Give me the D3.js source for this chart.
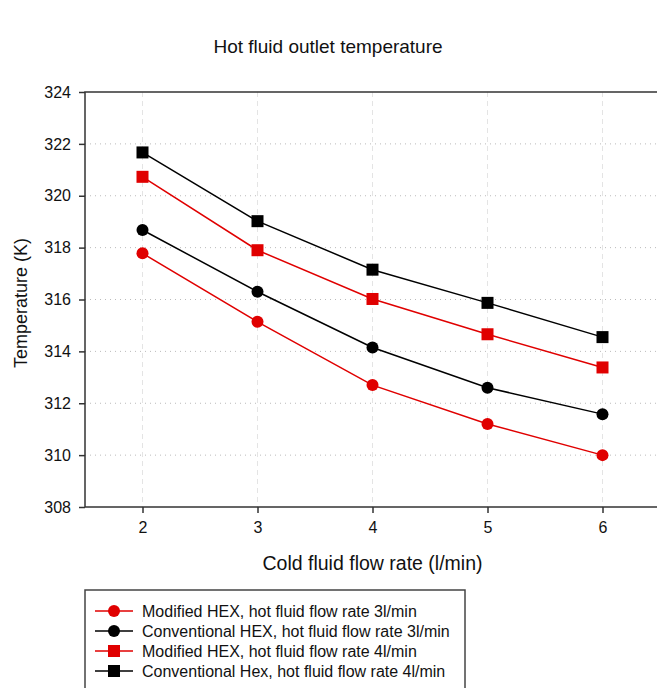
<!DOCTYPE html>
<meta charset="utf-8">
<style>
body { margin: 0; background: #fff; }
text { font-family: "Liberation Sans", Arial, sans-serif; fill: #111; }
.axis path, .axis line { stroke: #333; stroke-width: 1.5px; }
.axis text { font-size: 16px; }
.line { fill: none; stroke-width: 1.5px; }
</style>
<body>
<script src="https://cdn.jsdelivr.net/npm/d3@7"></script>
<script>

// data
var flowRates = [2, 3, 4, 5, 6];
var modified3 = [317.78, 315.14, 312.7, 311.2, 310.0];
var conventional3 = [318.68, 316.3, 314.15, 312.6, 311.58];
var modified4 = [320.73, 317.9, 316.02, 314.66, 313.38];
var conventional4 = [321.67, 319.02, 317.15, 315.87, 314.55];
var yTicks = [308, 310, 312, 314, 316, 318, 320, 322, 324];

var series = [
  {name: "Modified HEX, hot fluid flow rate 3l/min", values: modified3, color: "#e00000", shape: "circle"},
  {name: "Conventional HEX, hot fluid flow rate 3l/min", values: conventional3, color: "#000", shape: "circle"},
  {name: "Modified HEX, hot fluid flow rate 4l/min", values: modified4, color: "#e00000", shape: "square"},
  {name: "Conventional Hex, hot fluid flow rate 4l/min", values: conventional4, color: "#000", shape: "square"}
];

var width = 657, height = 688;
var plotLeft = 85, plotRight = 660, plotTop = 92, plotBottom = 507;

var svg = d3.select("body").append("svg")
    .attr("width", width)
    .attr("height", height);

var x = d3.scaleLinear().domain([1.5, 6.5]).range([plotLeft, plotRight]);
var y = d3.scaleLinear().domain([308, 324]).range([plotBottom, plotTop]);

// grid
svg.append("g").selectAll("line")
    .data(yTicks.slice(1, -1))
  .enter().append("line")
    .attr("x1", plotLeft).attr("x2", plotRight)
    .attr("y1", function(d) { return y(d); })
    .attr("y2", function(d) { return y(d); })
    .attr("stroke", "#bbb")
    .attr("stroke-dasharray", "1,4");

svg.append("g").selectAll("line")
    .data(flowRates)
  .enter().append("line")
    .attr("x1", function(d) { return x(d); })
    .attr("x2", function(d) { return x(d); })
    .attr("y1", plotTop).attr("y2", plotBottom)
    .attr("stroke", "#e4e4e4")
    .attr("stroke-dasharray", "5,4");

// frame
svg.append("rect")
    .attr("x", plotLeft).attr("y", plotTop)
    .attr("width", plotRight - plotLeft).attr("height", plotBottom - plotTop)
    .attr("fill", "none")
    .attr("stroke", "#333")
    .attr("stroke-width", 1.5);

// axes
svg.append("g")
    .attr("class", "axis")
    .attr("transform", "translate(0," + plotBottom + ")")
    .call(d3.axisBottom(x).tickValues(flowRates).tickFormat(d3.format("d"))
        .tickSize(6).tickPadding(9).tickSizeOuter(0))
    .call(function(g) { g.select(".domain").remove(); });

svg.append("g")
    .attr("class", "axis")
    .attr("transform", "translate(" + plotLeft + ",0)")
    .call(d3.axisLeft(y).tickValues(yTicks).tickFormat(d3.format("d"))
        .tickSize(6).tickPadding(8).tickSizeOuter(0))
    .call(function(g) { g.select(".domain").remove(); });

// lines and markers
var line = d3.line()
    .x(function(d, i) { return x(flowRates[i]); })
    .y(function(d) { return y(d); });

function drawMarker(g, shape, color, cx, cy) {
  if (shape == "circle") {
    g.append("circle").attr("cx", cx).attr("cy", cy).attr("r", 6).attr("fill", color);
  } else {
    g.append("rect").attr("x", cx - 6).attr("y", cy - 6)
        .attr("width", 12).attr("height", 12).attr("fill", color);
  }
}

series.forEach(function(s) {
  svg.append("path")
      .datum(s.values)
      .attr("class", "line")
      .attr("stroke", s.color)
      .attr("d", line);
  var g = svg.append("g");
  s.values.forEach(function(v, i) {
    drawMarker(g, s.shape, s.color, x(flowRates[i]), y(v));
  });
});

// titles
svg.append("text")
    .attr("x", 328).attr("y", 53)
    .attr("text-anchor", "middle")
    .style("font-size", "19px")
    .text("Hot fluid outlet temperature");

svg.append("text")
    .attr("x", (plotLeft + plotRight) / 2).attr("y", 570)
    .attr("text-anchor", "middle")
    .style("font-size", "19.5px")
    .text("Cold fluid flow rate (l/min)");

svg.append("text")
    .attr("transform", "translate(27,303) rotate(-90)")
    .attr("text-anchor", "middle")
    .style("font-size", "18px")
    .text("Temperature (K)");

// legend
var legend = svg.append("g");
legend.append("rect")
    .attr("x", 85).attr("y", 590)
    .attr("width", 380).attr("height", 120)
    .attr("fill", "#fff")
    .attr("stroke", "#444")
    .attr("stroke-width", 1.5);

series.forEach(function(s, i) {
  var ly = 611 + i * 20;
  legend.append("line")
      .attr("x1", 95).attr("x2", 133)
      .attr("y1", ly).attr("y2", ly)
      .attr("stroke", s.color).attr("stroke-width", 1.5);
  drawMarker(legend, s.shape, s.color, 114, ly);
  legend.append("text")
      .attr("x", 142).attr("y", ly)
      .attr("dy", "0.35em")
      .style("font-size", "16px")
      .text(s.name);
});

</script>
</body>
